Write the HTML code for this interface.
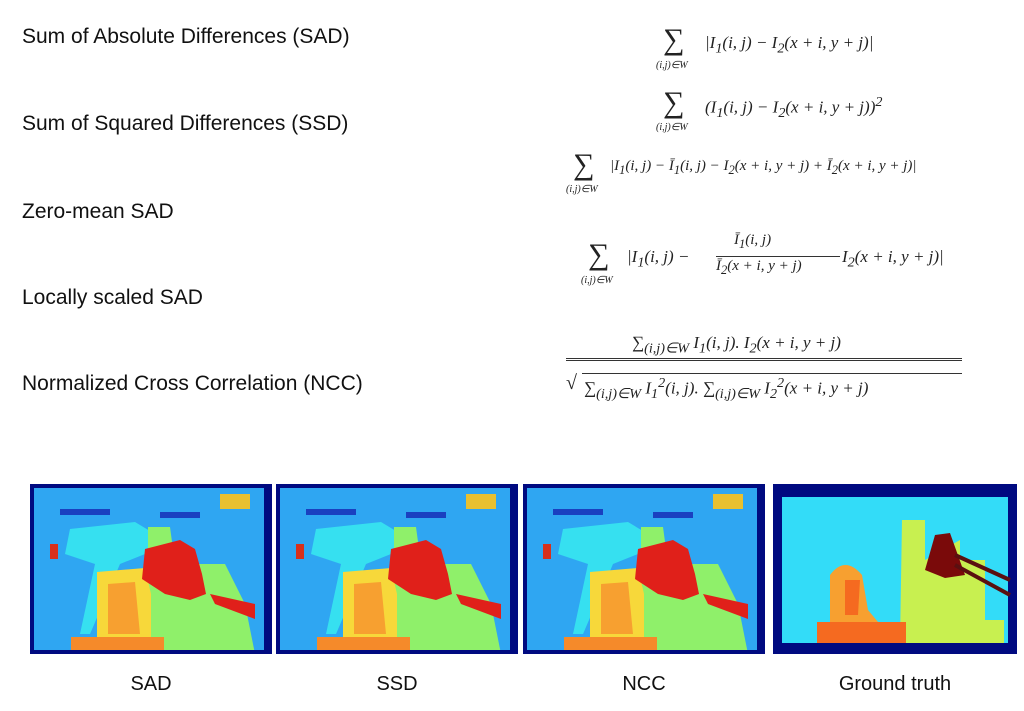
<!DOCTYPE html>
<html><head><meta charset="utf-8"><style>
body{margin:0;width:1024px;height:711px;background:#fff;position:relative;overflow:hidden;font-family:"Liberation Sans",sans-serif}
.lbl{position:absolute;left:22px;font-size:21px;color:#111}
.f{position:absolute;font-family:"Liberation Serif",serif;font-style:italic;font-size:17px;color:#222;white-space:nowrap}
.sig{font-style:normal;font-size:30px;position:absolute}
.sub{font-size:10px;position:absolute}
.cap{position:absolute;top:673px;font-size:20px;color:#111;text-align:center}
svg{position:absolute}
</style></head><body>
<div class="lbl" style="top:25px">Sum of Absolute Differences (SAD)</div>
<div class="lbl" style="top:112px">Sum of Squared Differences (SSD)</div>
<div class="lbl" style="top:200px">Zero-mean SAD</div>
<div class="lbl" style="top:286px">Locally scaled SAD</div>
<div class="lbl" style="top:372px">Normalized Cross Correlation (NCC)</div>

<div><span class="f sig" style="left:663px;top:23px">∑</span><span class="f sub" style="left:656px;top:60px">(i,j)∈W</span><span class="f" style="left:705px;top:33px">|I<sub>1</sub>(i, j) − I<sub>2</sub>(x + i, y + j)|</span></div>
<div><span class="f sig" style="left:663px;top:86px">∑</span><span class="f sub" style="left:656px;top:122px">(i,j)∈W</span><span class="f" style="left:705px;top:94px">(I<sub>1</sub>(i, j) − I<sub>2</sub>(x + i, y + j))<sup>2</sup></span></div>
<div><span class="f sig" style="left:573px;top:148px">∑</span><span class="f sub" style="left:566px;top:184px">(i,j)∈W</span><span class="f" style="left:610px;top:158px;font-size:15px">|I<sub>1</sub>(i, j) − Ī<sub>1</sub>(i, j) − I<sub>2</sub>(x + i, y + j) + Ī<sub>2</sub>(x + i, y + j)|</span></div>
<div><span class="f sig" style="left:588px;top:238px">∑</span><span class="f sub" style="left:581px;top:275px">(i,j)∈W</span><span class="f" style="left:627px;top:247px">|I<sub>1</sub>(i, j) −</span><span class="f" style="left:734px;top:232px;font-size:15px">Ī<sub>1</sub>(i, j)</span><div style="position:absolute;left:716px;top:256px;width:124px;border-top:1px solid #333"></div><span class="f" style="left:716px;top:258px;font-size:15px">Ī<sub>2</sub>(x + i, y + j)</span><span class="f" style="left:842px;top:247px">I<sub>2</sub>(x + i, y + j)|</span></div>
<div><span class="f" style="left:632px;top:333px">∑<sub>(i,j)∈W</sub> I<sub>1</sub>(i, j). I<sub>2</sub>(x + i, y + j)</span><div style="position:absolute;left:566px;top:358px;width:396px;border-top:3px double #333"></div><span class="f" style="left:566px;top:372px;font-size:20px;font-style:normal">√</span><span class="f" style="left:584px;top:375px">∑<sub>(i,j)∈W</sub> I<sub>1</sub><sup>2</sup>(i, j). ∑<sub>(i,j)∈W</sub> I<sub>2</sub><sup>2</sup>(x + i, y + j)</span><div style="position:absolute;left:582px;top:373px;width:380px;border-top:1px solid #333"></div></div>

<svg width="1024" height="711">
<defs>
<clipPath id="cl"><rect x="4" y="4" width="230" height="162"/></clipPath>
<g id="est">
<rect x="0" y="0" width="242" height="170" fill="#000a80"/>
<rect x="4" y="4" width="230" height="162" fill="#2fa6f2"/>
<g clip-path="url(#cl)">
<path d="M40 45 L105 38 L125 50 L115 70 L90 80 L60 150 L50 150 L65 80 L35 70Z" fill="#36e0f0"/>
<path d="M118 43 L140 43 L145 80 L195 80 L215 120 L225 170 L118 170Z" fill="#8ff06a"/>
<path d="M67 88 L115 84 L121 110 L121 170 L67 170Z" fill="#f7d83a"/>
<path d="M78 100 L105 98 L110 150 L78 150Z" fill="#f7a030"/>
<path d="M41 153 L134 153 L134 170 L41 170Z" fill="#f58a2a"/>
<path d="M115 65 L150 56 L165 65 L172 90 L176 110 L160 116 L135 110 L112 95Z" fill="#e0201a"/>
<path d="M180 110 L225 120 L225 135 L185 120Z" fill="#e0201a"/>
<rect x="20" y="60" width="8" height="15" fill="#d8301c"/>
<rect x="30" y="25" width="50" height="6" fill="#1a40c0"/>
<rect x="130" y="28" width="40" height="6" fill="#1a40c0"/>
<rect x="190" y="10" width="30" height="15" fill="#e8c030"/>
</g>
</g>
</defs>
<use href="#est" x="30" y="484"/>
<use href="#est" x="276" y="484"/>
<use href="#est" x="523" y="484"/>
<g>
<rect x="773" y="484" width="244" height="170" fill="#000a80"/>
<rect x="782" y="497" width="226" height="146" fill="#33dcf8"/>
<path d="M902 520 L925 520 L925 560 L960 540 L960 560 L985 560 L985 620 L1004 620 L1004 643 L900 643Z" fill="#c8f050"/>
<path d="M830 575 Q845 555 862 575 L868 610 L878 622 L830 622 Z" fill="#f7a030"/>
<path d="M845 580 L860 580 L858 615 L845 615Z" fill="#f56a20"/>
<rect x="817" y="622" width="89" height="21" fill="#f56a20"/>
<path d="M935 535 L950 533 L965 575 L945 578 L925 570Z" fill="#7a0a0a"/>
<path d="M955 555 L1010 580 M955 565 L1010 595" stroke="#5a1010" stroke-width="4"/>
</g>
</svg>
<div class="cap" style="left:30px;width:242px">SAD</div>
<div class="cap" style="left:276px;width:242px">SSD</div>
<div class="cap" style="left:523px;width:242px">NCC</div>
<div class="cap" style="left:773px;width:244px">Ground truth</div>
</body></html>
